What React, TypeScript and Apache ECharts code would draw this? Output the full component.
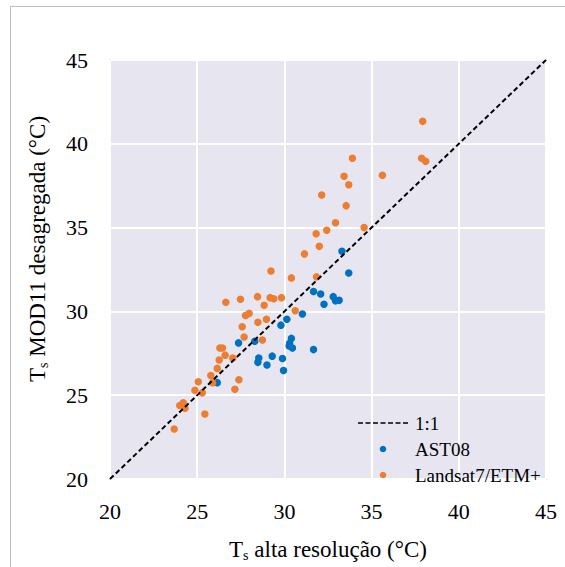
import React, { useEffect, useRef } from "react";
import * as echarts from "echarts";

const axisTicks = [20, 25, 30, 35, 40, 45];
const oneToOne: [number, number][] = [
  [20, 20],
  [45, 45],
];
const ast08: [number, number][] = [
  [31.67, 31.19], [32.08, 31.04], [32.27, 30.43], [31.03, 29.84], [30.14, 29.53],
  [29.8, 29.18], [28.3, 28.22], [27.37, 28.12], [30.4, 28.39], [30.3, 28.1],
  [30.27, 27.94], [30.46, 27.82], [31.67, 27.72], [28.53, 27.22], [28.48, 26.96],
  [29.3, 27.33], [29.89, 27.19], [29.0, 26.8], [29.95, 26.47], [26.15, 25.75],
  [33.3, 33.59], [33.69, 32.29], [32.8, 30.88], [32.93, 30.63], [33.14, 30.66],
];
const landsat: [number, number][] = [
  [29.23, 32.41], [30.4, 32.0], [31.84, 32.06], [26.64, 30.55], [27.48, 30.72],
  [28.46, 30.88], [29.18, 30.82], [29.39, 30.75], [29.83, 30.82], [28.84, 30.37],
  [30.62, 30.04], [27.77, 29.76], [27.98, 29.88], [28.97, 29.53], [28.48, 29.35],
  [27.58, 29.08], [27.69, 28.47], [28.74, 28.29], [26.3, 27.82], [26.45, 27.82],
  [26.6, 27.39], [26.26, 27.1], [27.04, 27.22], [26.15, 26.6], [25.78, 26.18],
  [25.88, 25.75], [25.06, 25.8], [27.39, 25.92], [27.16, 25.35], [24.87, 25.29],
  [25.29, 25.14], [24.0, 24.39], [24.2, 24.55], [24.3, 24.22], [25.44, 23.88],
  [23.68, 22.98], [37.93, 41.34], [37.87, 39.14], [38.1, 38.96], [33.9, 39.14],
  [35.62, 38.12], [33.42, 38.06], [33.69, 37.55], [32.14, 36.94], [33.54, 36.31],
  [32.93, 35.29], [34.57, 35.0], [32.43, 34.84], [31.82, 34.63], [32.0, 33.88],
  [31.15, 33.43],
];
const seriesNames = ["1:1", "AST08", "Landsat7/ETM+"];
const xTitle = "alta resolução (°C)";
const yTitle = "MOD11 desagregada (°C)";

const BLUE = "#0070C0";
const ORANGE = "#ED7D31";
const FONT = "Liberation Serif";

export default function App() {
  const ref = useRef<HTMLDivElement>(null);
  useEffect(() => {
    if (!ref.current) return;
    const chart = echarts.init(ref.current, undefined, { renderer: "svg" });
    const labelStyle = { fontFamily: FONT, fontSize: 22, color: "#000" };
    const richTitle = {
      t: { fontFamily: FONT, fontSize: 23, color: "#000", lineHeight: 26 },
      s: { fontFamily: FONT, fontSize: 14, color: "#000", lineHeight: 26, padding: [12, 0, 0, 0] },
    };
    const legendText = (text: string, y: number) => ({
      type: "text",
      x: 415,
      y,
      style: { text, fontFamily: FONT, fontSize: 19, fill: "#000", verticalAlign: "middle" },
      z: 10,
    });
    chart.setOption({
      animation: false,
      textStyle: { fontFamily: FONT },
      grid: {
        left: 110,
        top: 60,
        width: 436,
        height: 425,
        show: true,
        backgroundColor: "#E7E6F0",
        borderColor: "#BFBFBF",
        borderWidth: 1.5,
      },
      xAxis: {
        type: "value",
        min: axisTicks[0],
        max: axisTicks[axisTicks.length - 1],
        interval: 5,
        axisLine: { show: false },
        axisTick: { show: false },
        splitLine: { show: true, lineStyle: { color: "#ffffff", width: 2 } },
        axisLabel: { ...labelStyle, margin: 21 },
        name: "{t|T}{s|s}{t| " + xTitle + "}",
        nameLocation: "middle",
        nameGap: 57,
        nameTextStyle: { fontFamily: FONT, rich: richTitle },
      },
      yAxis: {
        type: "value",
        min: axisTicks[0],
        max: axisTicks[axisTicks.length - 1],
        interval: 5,
        axisLine: { show: false },
        axisTick: { show: false },
        splitLine: { show: true, lineStyle: { color: "#ffffff", width: 2 } },
        axisLabel: { ...labelStyle, margin: 22 },
      },
      graphic: [
        {
          type: "rect",
          shape: { x: 10.5, y: 6.5, width: 600, height: 600 },
          style: { fill: "none", stroke: "#BFBFBF", lineWidth: 1 },
          silent: true,
          z: -10,
        },
        {
          type: "text",
          x: 37,
          y: 249,
          rotation: Math.PI / 2,
          style: {
            text: "{t|T}{s|s}{t| " + yTitle + "}",
            align: "center",
            verticalAlign: "middle",
            fontFamily: FONT,
            rich: {
              t: { fontFamily: FONT, fontSize: 23, fill: "#000", lineHeight: 26 },
              s: { fontFamily: FONT, fontSize: 14, fill: "#000", lineHeight: 26, padding: [12, 0, 0, 0] },
            },
          },
        },
        {
          type: "line",
          shape: { x1: 358, y1: 423, x2: 410, y2: 423 },
          style: { stroke: "#000", lineWidth: 1.5, lineDash: [5, 2.5] },
          z: 10,
        },
        legendText(seriesNames[0], 423),
        {
          type: "circle",
          shape: { cx: 383, cy: 449, r: 3.3 },
          style: { fill: BLUE },
          z: 10,
        },
        legendText(seriesNames[1], 449),
        {
          type: "circle",
          shape: { cx: 383, cy: 475, r: 3.3 },
          style: { fill: ORANGE },
          z: 10,
        },
        legendText(seriesNames[2], 475),
      ],
      series: [
        {
          name: seriesNames[1],
          type: "scatter",
          data: ast08,
          symbol: "circle",
          symbolSize: 7.5,
          itemStyle: { color: BLUE, opacity: 1 },
          z: 2,
        },
        {
          name: seriesNames[2],
          type: "scatter",
          data: landsat,
          symbol: "circle",
          symbolSize: 7.5,
          itemStyle: { color: ORANGE, opacity: 1 },
          z: 3,
        },
        {
          name: seriesNames[0],
          type: "line",
          data: oneToOne,
          showSymbol: false,
          symbol: "none",
          lineStyle: { color: "#000", width: 2, type: [5, 3] },
          z: 4,
        },
      ],
    });
    return () => chart.dispose();
  }, []);
  return (
    <div
      ref={ref}
      style={{ position: "absolute", left: 0, top: 0, width: 565, height: 567, background: "#fff" }}
    />
  );
}
